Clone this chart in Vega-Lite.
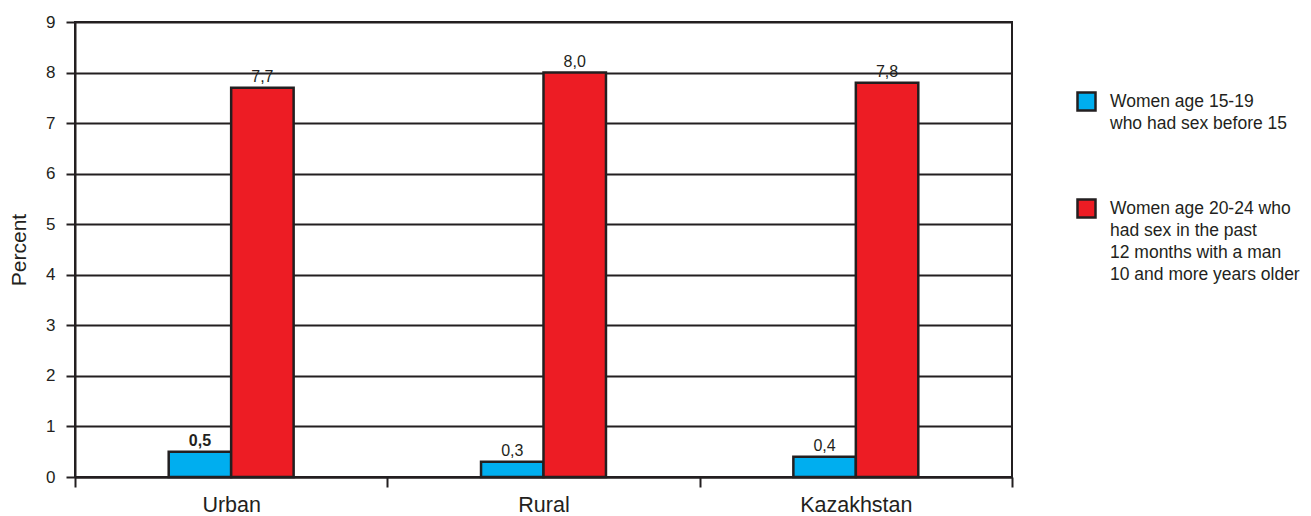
{
  "$schema": "https://vega.github.io/schema/vega-lite/v6.json",
  "width": 937,
  "height": 455,
  "autosize": "none",
  "padding": {"left": 75, "top": 22, "right": 299, "bottom": 39},
  "config": {
    "font": "Liberation Sans",
    "locale": {"number": {"decimal": ",", "thousands": " ", "grouping": [3], "currency": ["", ""]}},
    "view": {"stroke": "#231f20", "strokeWidth": 2}
  },
  "data": {
    "values": [
      {"area": "Urban", "group": "Women age 15-19 who had sex before 15", "value": 0.5},
      {"area": "Urban", "group": "Women age 20-24 who had sex in the past 12 months with a man 10 and more years older", "value": 7.7},
      {"area": "Rural", "group": "Women age 15-19 who had sex before 15", "value": 0.3},
      {"area": "Rural", "group": "Women age 20-24 who had sex in the past 12 months with a man 10 and more years older", "value": 8.0},
      {"area": "Kazakhstan", "group": "Women age 15-19 who had sex before 15", "value": 0.4},
      {"area": "Kazakhstan", "group": "Women age 20-24 who had sex in the past 12 months with a man 10 and more years older", "value": 7.8}
    ]
  },
  "encoding": {
    "x": {
      "field": "area", "type": "nominal", "sort": ["Urban", "Rural", "Kazakhstan"],
      "scale": {"paddingInner": 0, "paddingOuter": 0},
      "axis": {
        "title": null, "labelAngle": 0, "labelFontSize": 21.5, "labelColor": "#231f20",
        "domainColor": "#231f20", "domainWidth": 2, "tickColor": "#231f20", "tickWidth": 2,
        "tickSize": 10, "tickBand": "extent", "labelPadding": 7
      }
    },
    "xOffset": {
      "field": "group", "type": "nominal",
      "scale": {
        "domain": ["padL", "Women age 15-19 who had sex before 15", "Women age 20-24 who had sex in the past 12 months with a man 10 and more years older", "padR"],
        "paddingInner": 0, "paddingOuter": 0.5
      }
    },
    "y": {
      "field": "value", "type": "quantitative",
      "scale": {"domain": [0, 9], "nice": false},
      "axis": {
        "title": "Percent", "values": [0, 1, 2, 3, 4, 5, 6, 7, 8, 9],
        "grid": true, "gridColor": "#231f20", "gridWidth": 2, "gridOpacity": 1,
        "domainColor": "#231f20", "domainWidth": 2, "tickColor": "#231f20", "tickWidth": 2,
        "tickSize": 9, "labelFontSize": 17, "labelColor": "#231f20", "labelPadding": 11,
        "titleFontSize": 21, "titleFontWeight": "normal", "titleColor": "#231f20", "titlePadding": 16
      }
    }
  },
  "layer": [
    {
      "mark": {"type": "bar", "stroke": "#231f20", "strokeWidth": 2.5},
      "encoding": {
        "color": {
          "field": "group", "type": "nominal",
          "scale": {
            "domain": ["Women age 15-19 who had sex before 15", "Women age 20-24 who had sex in the past 12 months with a man 10 and more years older"],
            "range": ["#00aeef", "#ed1c24"]
          },
          "legend": {
            "title": null, "orient": "none", "legendX": 1001, "legendY": 69,
            "symbolType": "square", "symbolSize": 324, "symbolStrokeColor": "#231f20",
            "symbolStrokeWidth": 2.5, "symbolOpacity": 1, "labelFontSize": 17.5, "labelColor": "#231f20",
            "labelLimit": 400, "labelOffset": 13, "rowPadding": 61, "labelBaseline": "top",
            "labelExpr": "datum.label == 'Women age 15-19 who had sex before 15' ? ['Women age 15-19', 'who had sex before 15'] : ['Women age 20-24 who', 'had sex in the past', '12 months with a man', '10 and more years older']",
            "encode": {"labels": {"update": {"lineHeight": {"value": 22.3}, "dy": {"value": -9}}}}
          }
        }
      }
    },
    {
      "transform": [{"filter": "!(datum.area === 'Urban' && datum.value < 1)"}],
      "mark": {"type": "text", "baseline": "bottom", "dy": -3, "fontSize": 16, "color": "#231f20"},
      "encoding": {
        "text": {"field": "value", "type": "quantitative", "format": ".1f"}
      }
    },
    {
      "transform": [{"filter": "datum.area === 'Urban' && datum.value < 1"}],
      "mark": {"type": "text", "baseline": "bottom", "dy": -3, "fontSize": 16, "fontWeight": "bold", "color": "#231f20"},
      "encoding": {
        "text": {"field": "value", "type": "quantitative", "format": ".1f"}
      }
    }
  ]
}
